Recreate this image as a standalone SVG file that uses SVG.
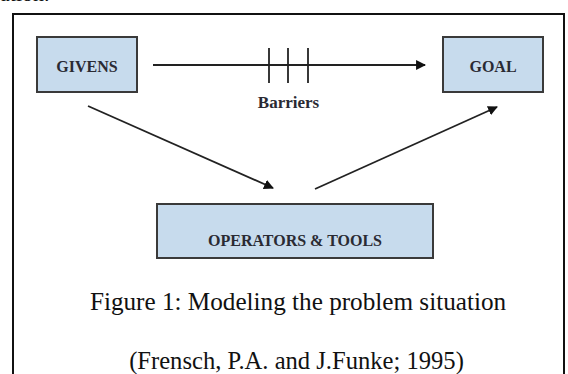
<svg xmlns="http://www.w3.org/2000/svg" width="568" height="374" viewBox="0 0 568 374">
<style>
.box{fill:#c7dbed;stroke:#3a3a3a;stroke-width:2}
.lbl{font-family:"Liberation Serif","DejaVu Serif",serif;font-weight:bold;font-size:16px;fill:#2a2a33;text-anchor:middle}
.con{stroke:#222;stroke-width:1.8;fill:none}
.cap{font-family:"Liberation Serif","Times New Roman",serif;fill:#111;text-anchor:middle}
</style>
<defs>
<marker id="ah" viewBox="0 0 10 10" refX="9" refY="5" markerWidth="5.5" markerHeight="5.5" orient="auto" markerUnits="strokeWidth">
<path d="M0,0 L10,5 L0,10 z" fill="#111"/>
</marker>
</defs>
<rect width="568" height="374" fill="#fff"/>
<text x="0" y="1" style="font-family:'Liberation Serif',serif;font-size:22px;fill:#111">ation.</text>
<path d="M13,380 V14 H564 V380" fill="none" stroke="#111" stroke-width="2"/>
<g id="givens">
<rect class="box" x="37" y="37" width="100" height="55"/>
<text class="lbl" x="87" y="72">GIVENS</text>
</g>
<g id="goal">
<rect class="box" x="443" y="37" width="100" height="55"/>
<text class="lbl" x="493" y="72">GOAL</text>
</g>
<g id="operators">
<rect class="box" x="157" y="204" width="276" height="54"/>
<text class="lbl" x="295" y="246">OPERATORS &amp; TOOLS</text>
</g>
<g id="connectors">
<line class="con" x1="153" y1="65" x2="425" y2="65" marker-end="url(#ah)"/>
<line class="con" x1="269" y1="48" x2="269" y2="83"/>
<line class="con" x1="288" y1="48" x2="288" y2="83"/>
<line class="con" x1="308" y1="48" x2="308" y2="83"/>
<text x="288.5" y="108" style="font-family:'Liberation Serif','DejaVu Serif',serif;font-weight:bold;font-size:17px;fill:#2a2a33;text-anchor:middle">Barriers</text>
<line class="con" x1="88" y1="106" x2="273" y2="188" marker-end="url(#ah)"/>
<line class="con" x1="315" y1="189" x2="497" y2="107" marker-end="url(#ah)"/>
</g>
<text class="cap" x="298" y="310" style="font-size:25.2px">Figure 1: Modeling the problem situation</text>
<text class="cap" x="296.5" y="369" style="font-size:24.6px">(Frensch, P.A. and J.Funke; 1995)</text>
</svg>
